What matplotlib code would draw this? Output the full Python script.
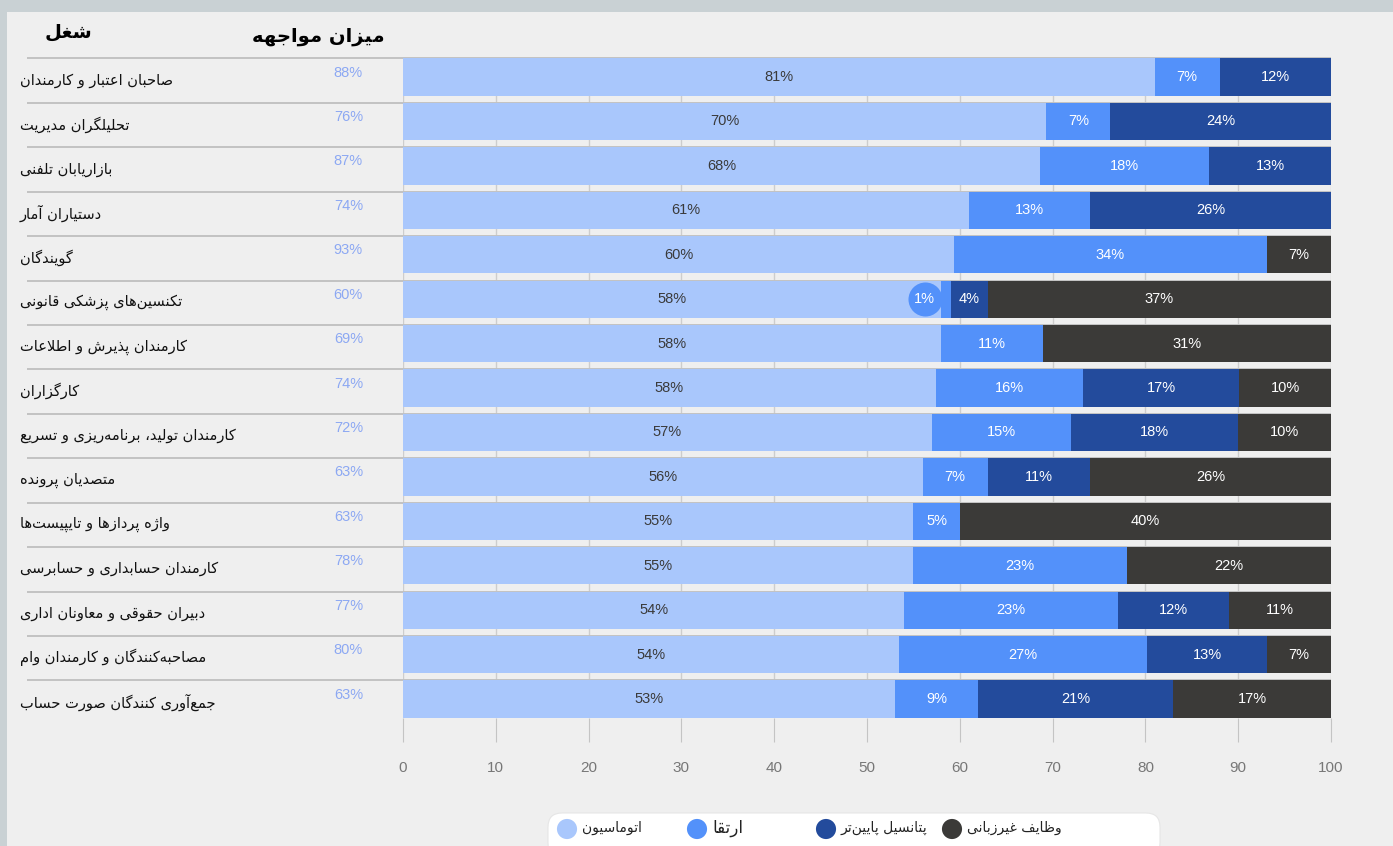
import matplotlib
matplotlib.use("Agg")
import matplotlib.pyplot as plt
from matplotlib.patches import FancyBboxPatch, Rectangle
from matplotlib.transforms import blended_transform_factory

# ---- data ----
jobs = [
    "صاحبان اعتبار و کارمندان",
    "تحلیلگران مدیریت",
    "بازاریابان تلفنی",
    "دستیاران آمار",
    "گویندگان",
    "تکنسین‌های پزشکی قانونی",
    "کارمندان پذیرش و اطلاعات",
    "کارگزاران",
    "کارمندان تولید، برنامه‌ریزی و تسریع",
    "متصدیان پرونده",
    "واژه پردازها و تایپیست‌ها",
    "کارمندان حسابداری و حسابرسی",
    "دبیران حقوقی و معاونان اداری",
    "مصاحبه‌کنندگان و کارمندان وام",
    "جمع‌آوری کنندگان صورت حساب",
]
exposure = [88, 76, 87, 74, 93, 60, 69, 74, 72, 63, 63, 78, 77, 80, 63]

automation = [81, 70, 68, 61, 60, 58, 58, 58, 57, 56, 55, 55, 54, 54, 53]
augmentation = [7, 7, 18, 13, 34, 1, 11, 16, 15, 7, 5, 23, 23, 27, 9]
lower_potential = [12, 24, 13, 26, 0, 4, 0, 17, 18, 11, 0, 0, 12, 13, 21]
non_language = [0, 0, 0, 0, 7, 37, 31, 10, 10, 26, 40, 22, 11, 7, 17]

series_names = ["اتوماسیون", "ارتقا", "پتانسیل پایین‌تر", "وظایف غیرزبانی"]
colors = ["#a9c7fc", "#5391fa", "#234b9c", "#3b3a38"]
xticks = [0, 10, 20, 30, 40, 50, 60, 70, 80, 90, 100]

header_job = "شغل"
header_exposure = "میزان مواجهه"


# ---- minimal Persian shaping (matplotlib has no bidi / joining) ----
FORMS = {
    'ا': (0xFE8D, 0xFE8E, None, None), 'آ': (0xFE81, 0xFE82, None, None),
    'أ': (0xFE83, 0xFE84, None, None), 'إ': (0xFE87, 0xFE88, None, None),
    'ب': (0xFE8F, 0xFE90, 0xFE91, 0xFE92), 'پ': (0xFB56, 0xFB57, 0xFB58, 0xFB59),
    'ت': (0xFE95, 0xFE96, 0xFE97, 0xFE98), 'ث': (0xFE99, 0xFE9A, 0xFE9B, 0xFE9C),
    'ج': (0xFE9D, 0xFE9E, 0xFE9F, 0xFEA0), 'چ': (0xFB7A, 0xFB7B, 0xFB7C, 0xFB7D),
    'ح': (0xFEA1, 0xFEA2, 0xFEA3, 0xFEA4), 'خ': (0xFEA5, 0xFEA6, 0xFEA7, 0xFEA8),
    'د': (0xFEA9, 0xFEAA, None, None), 'ذ': (0xFEAB, 0xFEAC, None, None),
    'ر': (0xFEAD, 0xFEAE, None, None), 'ز': (0xFEAF, 0xFEB0, None, None),
    'ژ': (0xFB8A, 0xFB8B, None, None),
    'س': (0xFEB1, 0xFEB2, 0xFEB3, 0xFEB4), 'ش': (0xFEB5, 0xFEB6, 0xFEB7, 0xFEB8),
    'ص': (0xFEB9, 0xFEBA, 0xFEBB, 0xFEBC), 'ض': (0xFEBD, 0xFEBE, 0xFEBF, 0xFEC0),
    'ط': (0xFEC1, 0xFEC2, 0xFEC3, 0xFEC4), 'ظ': (0xFEC5, 0xFEC6, 0xFEC7, 0xFEC8),
    'ع': (0xFEC9, 0xFECA, 0xFECB, 0xFECC), 'غ': (0xFECD, 0xFECE, 0xFECF, 0xFED0),
    'ف': (0xFED1, 0xFED2, 0xFED3, 0xFED4), 'ق': (0xFED5, 0xFED6, 0xFED7, 0xFED8),
    'ک': (0xFB8E, 0xFB8F, 0xFB90, 0xFB91), 'گ': (0xFB92, 0xFB93, 0xFB94, 0xFB95),
    'ل': (0xFEDD, 0xFEDE, 0xFEDF, 0xFEE0), 'م': (0xFEE1, 0xFEE2, 0xFEE3, 0xFEE4),
    'ن': (0xFEE5, 0xFEE6, 0xFEE7, 0xFEE8), 'ه': (0xFEE9, 0xFEEA, 0xFEEB, 0xFEEC),
    'و': (0xFEED, 0xFEEE, None, None),
    'ی': (0xFBFC, 0xFBFD, 0xFBFE, 0xFBFF),
}
LAM_ALEF = {'ا': (0xFEFB, 0xFEFC), 'آ': (0xFEF5, 0xFEF6),
            'أ': (0xFEF7, 0xFEF8), 'إ': (0xFEF9, 0xFEFA)}


def fa(text):
    s = text.replace('ي', 'ی').replace('ك', 'ک')
    out = []
    i = 0
    while i < len(s):
        c = s[i]
        if c not in FORMS:
            if c != '\u200c':
                out.append(c)
            i += 1
            continue
        p = s[i - 1] if i > 0 else ''
        joins_prev = p in FORMS and FORMS[p][2] is not None
        if c == 'ل' and i + 1 < len(s) and s[i + 1] in LAM_ALEF:
            iso, fin = LAM_ALEF[s[i + 1]]
            out.append(chr(fin if joins_prev else iso))
            i += 2
            continue
        n = s[i + 1] if i + 1 < len(s) else ''
        joins_next = FORMS[c][2] is not None and n in FORMS
        iso, fin, ini, med = FORMS[c]
        if joins_prev and joins_next:
            g = med
        elif joins_prev:
            g = fin
        elif joins_next:
            g = ini
        else:
            g = iso
        out.append(chr(g))
        i += 1
    return ''.join(out)[::-1]


# ---- figure ----
W, H = 1393, 846
fig = plt.figure(figsize=(W / 100, H / 100), dpi=100, facecolor="#efefef")

n = len(jobs)
bar_h = 0.84
top = -bar_h / 2
bottom = n - 1 + bar_h / 2
ax = fig.add_axes([403 / W, 1 - 717.7 / H, 928 / W, 659.3 / H])
ax.set_facecolor("none")
ax.set_xlim(0, 100)
ax.set_ylim(bottom, top)
for s in ax.spines.values():
    s.set_visible(False)

rows = list(zip(automation, augmentation, lower_potential, non_language))
ypos = list(range(n))
lefts = [0.0] * n
for k, name in enumerate(series_names):
    widths = []
    for r in range(n):
        widths.append(rows[r][k] * 100.0 / sum(rows[r]))
    ax.barh(ypos, widths, left=lefts, height=bar_h, color=colors[k], zorder=2)
    for r in range(n):
        v = rows[r][k]
        if v > 0:
            tc = "#3a3a3a" if k == 0 else "white"
            if widths[r] < 3:
                cx = lefts[r] - 1.8
                ax.scatter([cx], [r], s=600, color=colors[1], zorder=4, linewidths=0)
                ax.text(cx, r, f"{v}%", ha="center", va="center", color="white",
                        fontsize=10.5, family="Liberation Sans", zorder=5)
            else:
                ax.text(lefts[r] + widths[r] / 2, r, f"{v}%", ha="center", va="center",
                        color=tc, fontsize=10.5, family="Liberation Sans", zorder=3)
    lefts = [lefts[r] + widths[r] for r in range(n)]

ax.set_xticks(xticks)
ax.set_xticklabels([str(t) for t in xticks], family="Liberation Sans")
ax.grid(axis="x", color="#cdcdcd", lw=1)
ax.set_axisbelow(True)
ax.tick_params(axis="x", length=17, color="#c4c4c4", labelcolor="#777777",
               labelsize=11, pad=14)
ax.tick_params(axis="y", left=False, labelleft=False)

# row separators across the label column and the bars
ax.hlines([y - bar_h / 2 for y in ypos], -0.405, 1.0, transform=ax.get_yaxis_transform(),
          colors="#c2c2c2", lw=1.4, clip_on=False, zorder=1)

# left columns
tr = blended_transform_factory(fig.transFigure, ax.transData)
for r in range(n):
    fig.text(20 / W, r + 0.07, fa(jobs[r]), transform=tr, ha="left", va="center",
             fontsize=10.5, color="#111111")
    fig.text(363 / W, r - 0.1, f"{exposure[r]}%", transform=tr, ha="right", va="center",
             fontsize=10.5, color="#8ca8f3", family="Liberation Sans")

# overlay in pixel coordinates for frame, headers and legend
ov = fig.add_axes([0, 0, 1, 1])
ov.set_xlim(0, W)
ov.set_ylim(H, 0)
ov.axis("off")
ov.set_facecolor("none")
ov.add_patch(Rectangle((0, 0), W, 12, color="#c9d1d4", lw=0))
ov.add_patch(Rectangle((0, 0), 7, H, color="#c9d1d4", lw=0))

ov.text(68, 32, fa(header_job), ha="center", va="center", fontsize=14, fontweight="bold")
ov.text(385, 36, fa(header_exposure), ha="right", va="center", fontsize=14, fontweight="bold")

ov.add_patch(FancyBboxPatch((548, 813), 612, 44, boxstyle="round,pad=0,rounding_size=14",
                            facecolor="white", edgecolor="#e6e6e6", lw=0.8))
leg_x = [567, 697, 826, 952]
ov.scatter(leg_x, [829] * 4, s=210, c=colors, linewidths=0, zorder=3)
for k, name in enumerate(series_names):
    ov.text(leg_x[k] + 15, 828, fa(name), ha="left", va="center",
            fontsize=12 if k == 1 else 10, color="#222222")

fig.savefig("out.png", dpi=100, facecolor=fig.get_facecolor())
